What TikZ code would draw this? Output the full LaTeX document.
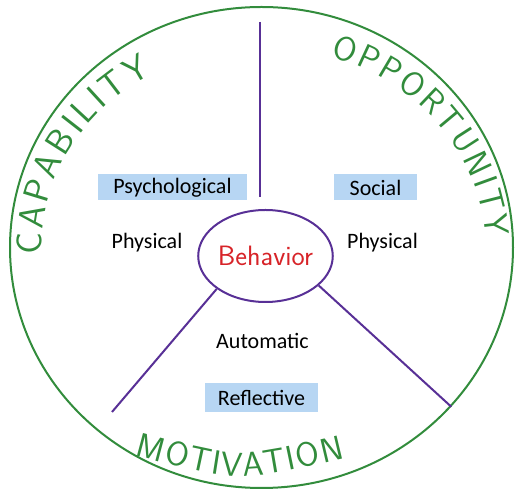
\documentclass[tikz,border=0pt]{standalone}
\usepackage{fontspec}
\setmainfont{Carlito}
\usepackage{tikz}
\usetikzlibrary{shapes.geometric}
\usetikzlibrary{calc}
\usetikzlibrary{decorations.text}
\definecolor{comgreen}{RGB}{50,140,60}
\definecolor{compurple}{RGB}{88,48,150}
\definecolor{comred}{RGB}{215,35,40}
\definecolor{comblue}{RGB}{183,214,243}
\tikzset{
ring/.style={ellipse, draw=comgreen, line width=2pt, minimum width=503, minimum height=481, inner sep=0pt},
hub/.style={ellipse, draw=compurple, line width=2pt, minimum width=105, minimum height=92, inner sep=0pt, text=comred, font=\sffamily\fontsize{28}{28}\selectfont},
spoke/.style={draw=compurple, line width=2pt},
source/.style={font=\fontsize{22}{24}\selectfont, inner sep=0pt},
shaded/.style={source, fill=comblue, minimum height=26},
handtext/.style 2 args={decorate, decoration={text along path, text align=fit to path, text color=comgreen, text={|\sffamily\fontsize{#1}{#1}\selectfont|#2}}}
}
\begin{document}
\begin{tikzpicture}[x=1pt,y=1pt]%COM-B wheel
\useasboundingbox (0,0) rectangle (515,490);
\node[ring] (ring) at (261.5,242.5) {};
\node[hub] (behave) at (265.5,234) {Behavior};
\coordinate (toptip) at (260,468);
\coordinate (capfoot) at (112,78);
\draw[spoke, shorten >=12pt] (toptip) -- (toptip |- behave.north);
\draw[spoke] (behave.214) -- (capfoot);
\draw[spoke] (behave.331) -- (ring.320);
% sources of behaviour
\node[shaded, minimum width=149] (psych) at (172.5,302.5) {Psychological};
\node[source] (phyl) at (147,247) {Physical};
\node[shaded, minimum width=83] (social) at (375.5,302.5) {Social};
\node[source] (phyr) at (382.5,247) {Physical};
\node[source] (auto) at (262.5,149) {Automatic};
\node[shaded, minimum width=113, minimum height=29] (reflect) at (261.5,92.5) {Reflective};
% hand lettering round the rim
\path[handtext={36}{CAPABILITY}] ($(ring.center)+(182:220 and 200)$) arc[start angle=182, end angle=120, x radius=220, y radius=200];
\path[handtext={34}{OPPORTUNITY}] ($(ring.center)+(72:224 and 201)$) arc[start angle=72, end angle=3, x radius=224, y radius=201];
\path[handtext={34}{MOTIVATION}] (135,35) .. controls (240,7) .. (345,32);
\end{tikzpicture}
\end{document}
